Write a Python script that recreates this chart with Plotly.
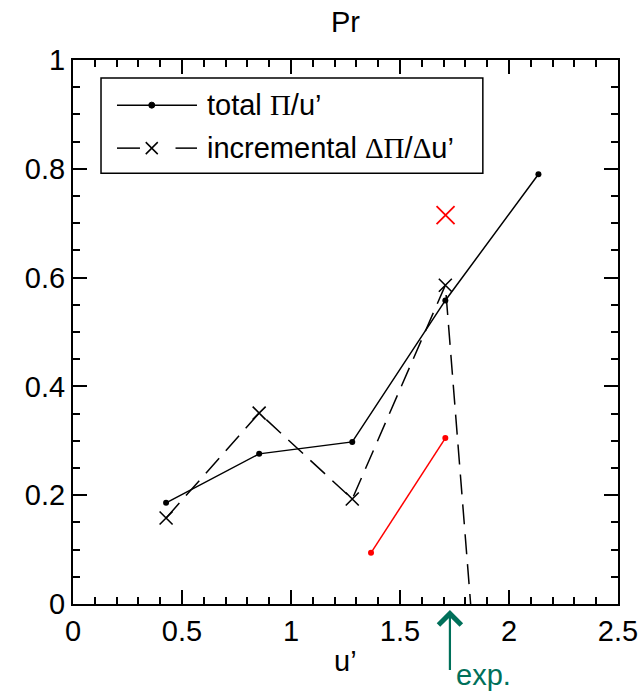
import plotly.graph_objects as go

# ---- data ----
u_total = [0.427, 0.854, 1.281, 1.708, 2.135]
pr_total = [0.186, 0.276, 0.298, 0.558, 0.790]

u_incr = [0.427, 0.854, 1.281, 1.708, 2.135]
pr_incr = [0.158, 0.351, 0.193, 0.586, -1.57]

u_red = [1.367, 1.708]
pr_red = [0.094, 0.305]

u_red_x = [1.709]
pr_red_x = [0.715]

u_exp = 1.729

x_ticks = [0, 0.5, 1, 1.5, 2, 2.5]
y_ticks = [0, 0.2, 0.4, 0.6, 0.8, 1]

FONT = "Liberation Sans, Arial, sans-serif"
SERIF = "Liberation Serif, Times New Roman, serif"
GREEN = "#00705a"

fig = go.Figure()

fig.add_trace(go.Scatter(x=u_total, y=pr_total, mode="lines+markers",
                         line=dict(color="black", width=1.5),
                         marker=dict(color="black", size=6, symbol="circle"),
                         showlegend=False))
fig.add_trace(go.Scatter(x=u_incr, y=pr_incr, mode="lines+markers",
                         line=dict(color="black", width=1.5, dash="20px,10px"),
                         marker=dict(color="black", size=13, symbol="x-thin",
                                     line=dict(color="black", width=1.6)),
                         showlegend=False))
fig.add_trace(go.Scatter(x=u_red, y=pr_red, mode="lines+markers",
                         line=dict(color="red", width=1.5),
                         marker=dict(color="red", size=6, symbol="circle"),
                         showlegend=False))
fig.add_trace(go.Scatter(x=u_red_x, y=pr_red_x, mode="markers",
                         marker=dict(color="red", size=18, symbol="x-thin",
                                     line=dict(color="red", width=1.8)),
                         showlegend=False))

axis_common = dict(
    showline=True, linecolor="black", linewidth=2, mirror="allticks",
    ticks="inside", ticklen=14, tickwidth=1.5, tickcolor="black",
    showgrid=False, zeroline=False, automargin=False,
    tickfont=dict(family=FONT, size=29, color="black"),
)

fig.update_xaxes(range=[0, 2.5], tickvals=x_ticks,
                 minor=dict(dtick=0.1, ticks="inside", ticklen=7, tickwidth=1.5,
                            tickcolor="black", showgrid=False),
                 **axis_common)
fig.update_yaxes(range=[0, 1], tickvals=y_ticks,
                 minor=dict(dtick=0.05, ticks="inside", ticklen=7, tickwidth=1.5,
                            tickcolor="black", showgrid=False),
                 **axis_common)

# ---- custom legend ----
W, H = 545.0, 544.0
def px(dx):
    return dx / W
def py(dy):
    return dy / H

shapes = []
shapes.append(dict(type="rect", xref="paper", yref="paper",
                   x0=0.0514, x1=0.752, y0=0.792, y1=0.967,
                   line=dict(color="black", width=1.5), fillcolor="white"))
r1, r2 = 0.917, 0.838
lx0, lx1, lxc = 0.0807, 0.2275, 0.1445
shapes.append(dict(type="line", xref="paper", yref="paper",
                   x0=lx0, x1=lx1, y0=r1, y1=r1, line=dict(color="black", width=1.5)))
shapes.append(dict(type="circle", xref="paper", yref="paper",
                   x0=lxc - px(3), x1=lxc + px(3), y0=r1 - py(3), y1=r1 + py(3),
                   line=dict(color="black", width=1), fillcolor="black"))
shapes.append(dict(type="line", xref="paper", yref="paper",
                   x0=lx0, x1=0.1229, y0=r2, y1=r2, line=dict(color="black", width=1.5)))
shapes.append(dict(type="line", xref="paper", yref="paper",
                   x0=0.1881, x1=lx1, y0=r2, y1=r2, line=dict(color="black", width=1.5)))
for s in (1, -1):
    shapes.append(dict(type="line", xref="paper", yref="paper",
                       x0=lxc - px(6), x1=lxc + px(6), y0=r2 - s * py(6), y1=r2 + s * py(6),
                       line=dict(color="black", width=1.5)))
fig.update_layout(shapes=shapes)

annotations = [
    dict(text="total <span style='font-family:%s'>\u03a0</span>/u\u2019" % SERIF,
         xref="paper", yref="paper", x=0.242, y=r1, xanchor="left", yanchor="middle",
         showarrow=False, font=dict(family=FONT, size=29, color="black")),
    dict(text="incremental <span style='font-family:%s'>\u0394\u03a0</span>/<span style='font-family:%s'>\u0394</span>u\u2019" % (SERIF, SERIF),
         xref="paper", yref="paper", x=0.242, y=r2, xanchor="left", yanchor="middle",
         showarrow=False, font=dict(family=FONT, size=29, color="black")),
    dict(text="Pr", xref="paper", yref="paper", x=0.5, y=1.07,
         xanchor="center", yanchor="middle", showarrow=False,
         font=dict(family=FONT, size=29, color="black")),
    dict(text="u\u2019", xref="paper", yref="paper", x=0.5, y=-0.105,
         xanchor="center", yanchor="middle", showarrow=False,
         font=dict(family=FONT, size=29, color="black")),
    # exp. arrow
    dict(text=" ", x=u_exp, y=-0.011, xref="x", yref="paper",
         showarrow=True, arrowhead=4, arrowsize=2.0, arrowwidth=2.2,
         arrowcolor=GREEN, ax=0, ay=63, axref="pixel", ayref="pixel",
         font=dict(size=2), standoff=0, startstandoff=0),
    dict(text="exp.", x=u_exp + 0.02, y=-0.131, xref="x", yref="paper",
         xanchor="left", yanchor="middle", showarrow=False,
         font=dict(family=FONT, size=29, color=GREEN)),
]
fig.update_layout(annotations=annotations)

fig.update_layout(width=643, height=693,
                  margin=dict(l=73, r=25, t=60, b=89, autoexpand=False),
                  plot_bgcolor="white", paper_bgcolor="white",
                  showlegend=False)

fig.write_html("out.html")
